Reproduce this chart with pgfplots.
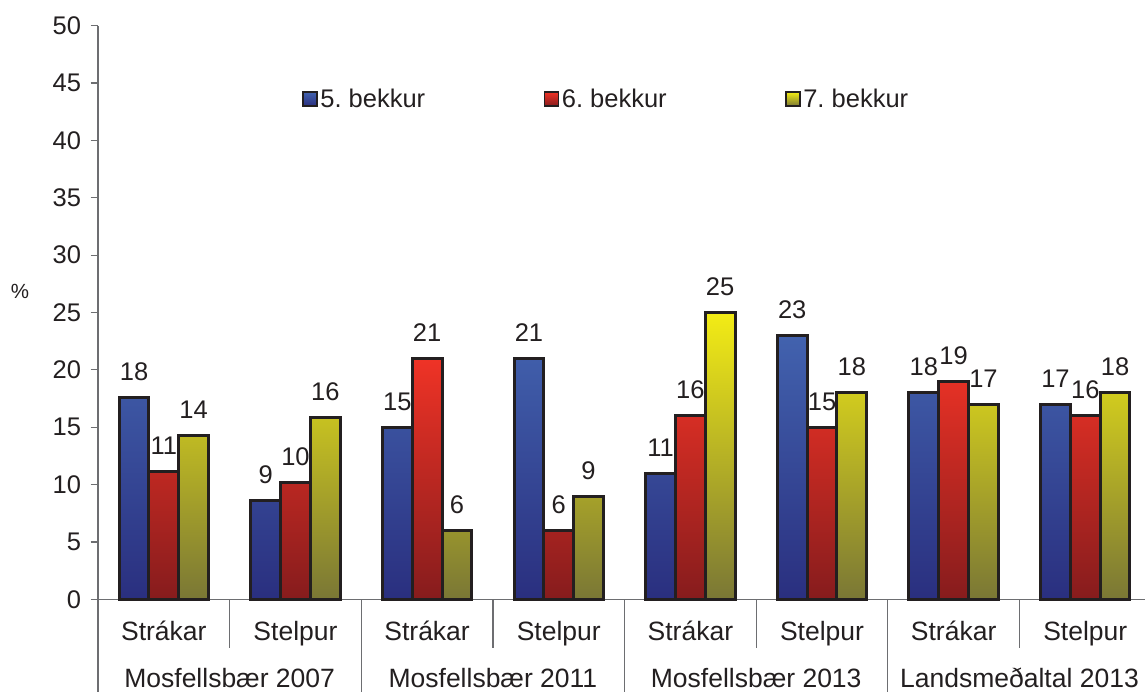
\documentclass[border=0pt]{standalone}
\usepackage{pgfplots}
\pgfplotsset{compat=1.18}
\usepackage{fontspec}
\setmainfont{Liberation Sans}
\definecolor{txt}{HTML}{231F20}
\definecolor{blueT}{HTML}{4262AE}
\definecolor{blueB}{HTML}{2A2F7F}
\definecolor{redT}{HTML}{EF3326}
\definecolor{redB}{HTML}{861C1D}
\definecolor{yelT}{HTML}{F3EC15}
\definecolor{yelB}{HTML}{7A7735}
\definecolor{axisgray}{HTML}{6D6E71}
\newcommand{\bigf}{\fontsize{25.5}{30}\selectfont}
\newcommand{\catf}{\fontsize{26.5}{31}\selectfont}
\begin{document}
\begin{tikzpicture}
\begin{axis}[
  at={(98pt,-599.3pt)}, anchor=south west,
  scale only axis, width=1053.2pt, height=573.6pt,
  xmin=0, xmax=8, ymin=0, ymax=50,
  axis x line=bottom, axis y line=left,
  axis line style={-, axisgray, line width=1.2pt},
  ytick={0,5,...,50}, tick align=outside, major tick length=7.5pt,
  tick style={axisgray, line width=1.2pt},
  xtick={0.5,1.5,...,7.5},
  xticklabels={Strákar,Stelpur,Strákar,Stelpur,Strákar,Stelpur,Strákar,Stelpur},
  x tick style={draw=none},
  /pgf/number format/assume math mode=true,
  ticklabel style={font=\bigf, text=txt},
  yticklabel style={xshift=-6pt},
  xticklabel style={anchor=base, yshift=-33.5pt, font=\catf},
  ybar=0pt, bar width=29.8pt,
  nodes near coords={\pgfmathprintnumber[fixed,precision=0]{\pgfplotspointmeta}},
  every node near coord/.append style={font=\bigf, text=txt, anchor=base, inner sep=0pt, yshift=17pt},
  every axis plot/.append style={draw=txt, line width=3pt},
  legend columns=3,
  legend style={draw=none, fill=none, at={(axis cs:1.55,43.6)}, anchor=west, inner sep=0pt,
    font=\bigf, text=txt, nodes={inner xsep=2.5pt, inner ysep=0pt},
    /tikz/every even column/.append style={column sep=116pt}},
  legend image code/.code={\draw[#1, line width=1.6pt] (0pt,-7pt) rectangle (14pt,7pt);},
  clip=false,
]
\addplot[top color=blueT, bottom color=blueB] coordinates {(0.5,17.55)(1.5,8.57)(2.5,15)(3.5,21)(4.5,11)(5.5,23)(6.5,18)(7.5,17)};
\addplot[top color=redT, bottom color=redB] coordinates {(0.5,11.1)(1.5,10.2)(2.5,21)(3.5,6)(4.5,16)(5.5,15)(6.5,19)(7.5,16)};
\addplot[top color=yelT, bottom color=yelB] coordinates {(0.5,14.24)(1.5,15.87)(2.5,6)(3.5,9)(4.5,25)(5.5,18)(6.5,17)(7.5,18)};
\legend{5.~bekkur,6.~bekkur,7.~bekkur}
\draw[axisgray, line width=1.2pt] (axis cs:1,0) -- ++(0,-48.5pt);
\draw[axisgray, line width=1.2pt] (axis cs:3,0) -- ++(0,-48.5pt);
\draw[axisgray, line width=1.2pt] (axis cs:5,0) -- ++(0,-48.5pt);
\draw[axisgray, line width=1.2pt] (axis cs:7,0) -- ++(0,-48.5pt);
\draw[axisgray, line width=1.2pt] (axis cs:0,0) -- ++(0,-95pt);
\draw[axisgray, line width=1.2pt] (axis cs:2,0) -- ++(0,-95pt);
\draw[axisgray, line width=1.2pt] (axis cs:4,0) -- ++(0,-95pt);
\draw[axisgray, line width=1.2pt] (axis cs:6,0) -- ++(0,-95pt);
\draw[axisgray, line width=1.2pt] (axis cs:8,0) -- ++(0,-95pt);
\node[anchor=base, font=\catf, text=txt] at (axis cs:1,0) [yshift=-87.7pt] {Mosfellsbær 2007};
\node[anchor=base, font=\catf, text=txt] at (axis cs:3,0) [yshift=-87.7pt] {Mosfellsbær 2011};
\node[anchor=base, font=\catf, text=txt] at (axis cs:5,0) [yshift=-87.7pt] {Mosfellsbær 2013};
\node[anchor=base, font=\catf, text=txt] at (axis cs:7,0) [yshift=-87.7pt] {Landsmeðaltal 2013};
\end{axis}
\node[font=\fontsize{20.5}{24}\selectfont, text=txt] at (20pt,-291.7pt) {\%};
\pgfresetboundingbox
\useasboundingbox (0,0) rectangle (1145pt,-692pt);
\end{tikzpicture}
\end{document}
